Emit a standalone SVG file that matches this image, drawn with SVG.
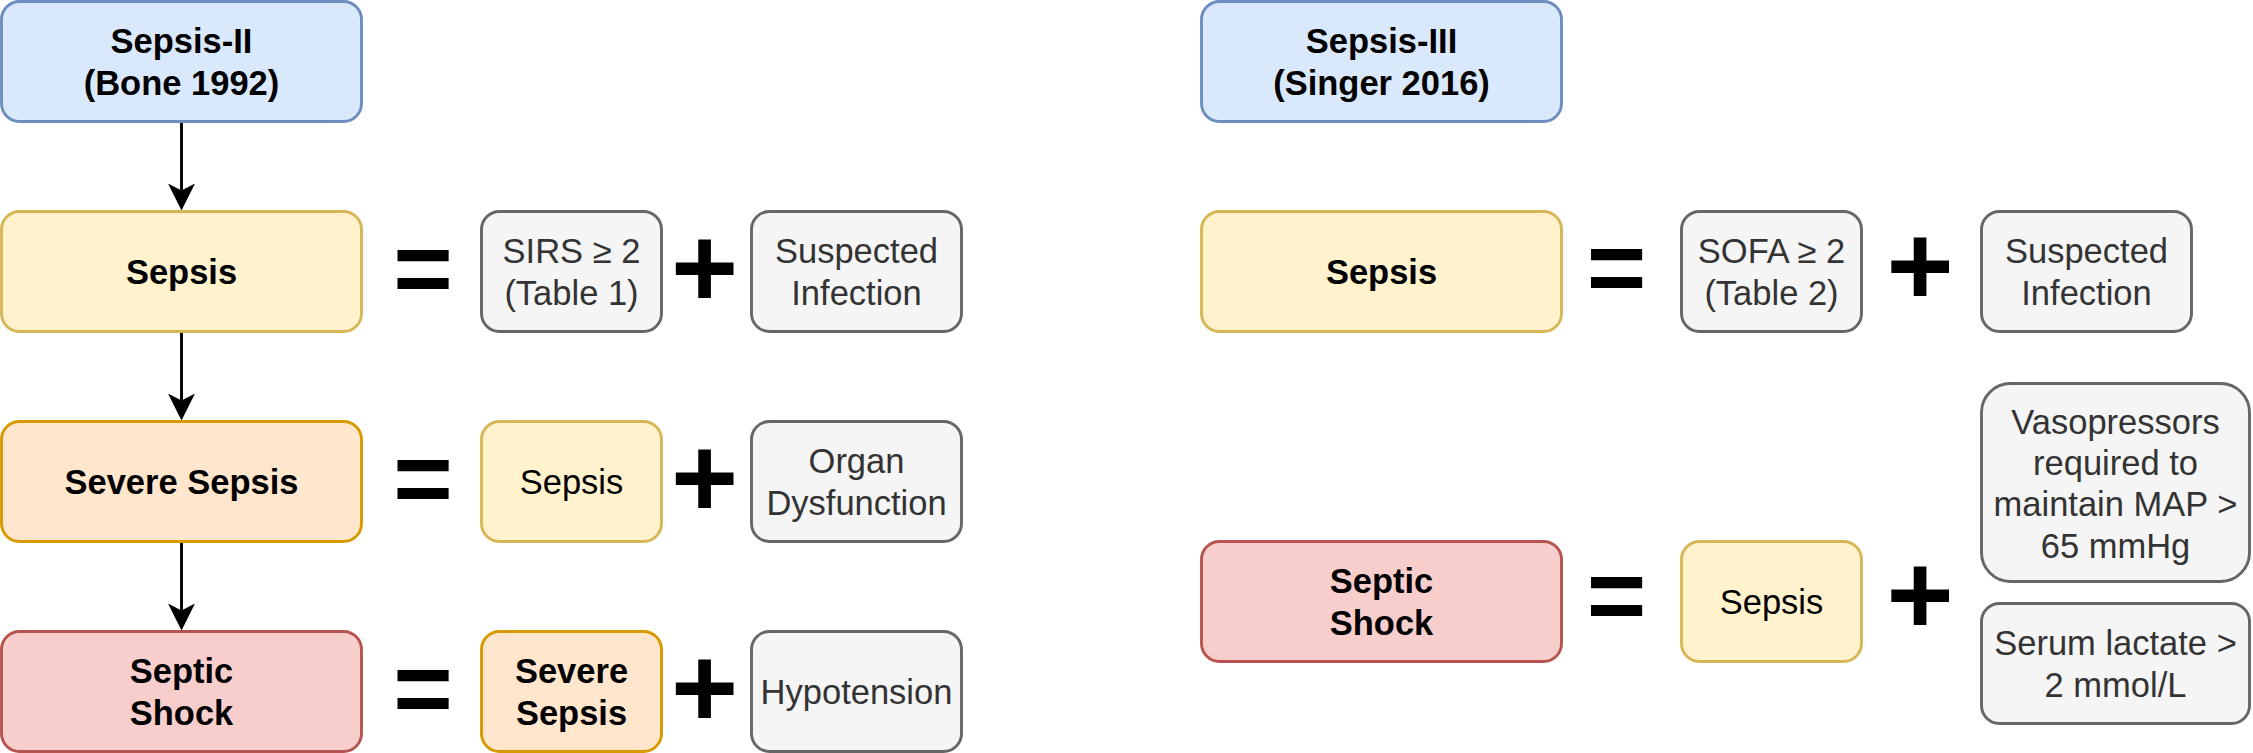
<svg xmlns="http://www.w3.org/2000/svg" width="2253" height="753" viewBox="0 0 2253 753">
<style>
  rect { stroke-width: 2.9; }
  .blue { fill: #dae8fc; stroke: #6c8ebf; }
  .yellow { fill: #fff2cc; stroke: #d6b656; }
  .orange { fill: #ffe6cc; stroke: #d79b00; }
  .red { fill: #f8cecc; stroke: #b85450; }
  .gray { fill: #f5f5f5; stroke: #666666; }
  text { font-family: "Liberation Sans", Arial, Helvetica, sans-serif; font-size: 34.5px; text-anchor: middle; }
  .b { font-weight: bold; fill: #000000; }
  .n { fill: #000000; }
  .g { fill: #333333; }
  .op { font-weight: bold; font-size: 115px; fill: #000000; }
  .eq { font-weight: bold; font-size: 102px; fill: #000000; }
  .conn { stroke: #000000; stroke-width: 2.9; fill: none; }
</style>
<defs>
  <marker id="arrow" viewBox="0 0 27 27" refX="7" refY="13.5" markerWidth="27" markerHeight="27" markerUnits="userSpaceOnUse" orient="auto">
    <path d="M0,0 L27,13.5 L0,27 L7,13.5 Z" fill="#000000"/>
  </marker>
</defs>
<rect width="2253" height="753" fill="#ffffff" stroke="none"/>

<g id="connectors">
  <path class="conn" d="M181.5,122 L181.5,190.5" marker-end="url(#arrow)"/>
  <path class="conn" d="M181.5,332 L181.5,400.5" marker-end="url(#arrow)"/>
  <path class="conn" d="M181.5,542 L181.5,610.5" marker-end="url(#arrow)"/>
</g>

<!-- Left: Sepsis-II -->
<g id="sepsis2-title">
  <rect class="blue" x="1.5" y="1.5" width="360" height="120" rx="18" ry="18"/>
  <text class="b" x="181.5" y="53.1">Sepsis-II</text>
  <text class="b" x="181.5" y="94.5">(Bone 1992)</text>
</g>
<g id="sepsis2-sepsis">
  <rect class="yellow" x="1.5" y="211.5" width="360" height="120" rx="18" ry="18"/>
  <text class="b" x="181.5" y="283.8">Sepsis</text>
</g>
<g id="sepsis2-severe">
  <rect class="orange" x="1.5" y="421.5" width="360" height="120" rx="18" ry="18"/>
  <text class="b" x="181.5" y="493.8">Severe Sepsis</text>
</g>
<g id="sepsis2-shock">
  <rect class="red" x="1.5" y="631.5" width="360" height="120" rx="18" ry="18"/>
  <text class="b" x="181.5" y="683.1">Septic</text>
  <text class="b" x="181.5" y="724.5">Shock</text>
</g>

<g id="eq-l1"><text class="eq" x="423" y="304">=</text></g>
<g id="eq-l2"><text class="eq" x="423" y="514">=</text></g>
<g id="eq-l3"><text class="eq" x="423" y="724">=</text></g>
<g id="plus-l1"><text class="op" x="704.5" y="307">+</text></g>
<g id="plus-l2"><text class="op" x="704.5" y="517">+</text></g>
<g id="plus-l3"><text class="op" x="704.5" y="727">+</text></g>

<g id="sirs">
  <rect class="gray" x="481.5" y="211.5" width="180" height="120" rx="18" ry="18"/>
  <text class="g" x="571.5" y="263.1">SIRS ≥ 2</text>
  <text class="g" x="571.5" y="304.5">(Table 1)</text>
</g>
<g id="suspected-l">
  <rect class="gray" x="751.5" y="211.5" width="210" height="120" rx="18" ry="18"/>
  <text class="g" x="856.5" y="263.1">Suspected</text>
  <text class="g" x="856.5" y="304.5">Infection</text>
</g>
<g id="sepsis-mid-l">
  <rect class="yellow" x="481.5" y="421.5" width="180" height="120" rx="18" ry="18"/>
  <text class="n" x="571.5" y="493.8">Sepsis</text>
</g>
<g id="organ">
  <rect class="gray" x="751.5" y="421.5" width="210" height="120" rx="18" ry="18"/>
  <text class="g" x="856.5" y="473.1">Organ</text>
  <text class="g" x="856.5" y="514.5">Dysfunction</text>
</g>
<g id="severe-mid-l">
  <rect class="orange" x="481.5" y="631.5" width="180" height="120" rx="18" ry="18"/>
  <text class="b" x="571.5" y="683.1">Severe</text>
  <text class="b" x="571.5" y="724.5">Sepsis</text>
</g>
<g id="hypotension">
  <rect class="gray" x="751.5" y="631.5" width="210" height="120" rx="18" ry="18"/>
  <text class="g" x="856.5" y="703.8">Hypotension</text>
</g>

<!-- Right: Sepsis-III -->
<g id="sepsis3-title">
  <rect class="blue" x="1201.5" y="1.5" width="360" height="120" rx="18" ry="18"/>
  <text class="b" x="1381.5" y="53.1">Sepsis-III</text>
  <text class="b" x="1381.5" y="94.5">(Singer 2016)</text>
</g>
<g id="sepsis3-sepsis">
  <rect class="yellow" x="1201.5" y="211.5" width="360" height="120" rx="18" ry="18"/>
  <text class="b" x="1381.5" y="283.8">Sepsis</text>
</g>
<g id="eq-r1"><text class="eq" x="1616.5" y="303">=</text></g>
<g id="sofa">
  <rect class="gray" x="1681.5" y="211.5" width="180" height="120" rx="18" ry="18"/>
  <text class="g" x="1771.5" y="263.1">SOFA ≥ 2</text>
  <text class="g" x="1771.5" y="304.5">(Table 2)</text>
</g>
<g id="plus-r1"><text class="op" x="1920" y="305">+</text></g>
<g id="suspected-r">
  <rect class="gray" x="1981.5" y="211.5" width="210" height="120" rx="18" ry="18"/>
  <text class="g" x="2086.5" y="263.1">Suspected</text>
  <text class="g" x="2086.5" y="304.5">Infection</text>
</g>

<g id="sepsis3-shock">
  <rect class="red" x="1201.5" y="541.5" width="360" height="120" rx="18" ry="18"/>
  <text class="b" x="1381.5" y="593.1">Septic</text>
  <text class="b" x="1381.5" y="634.5">Shock</text>
</g>
<g id="eq-r2"><text class="eq" x="1616.5" y="630.5">=</text></g>
<g id="sepsis-mid-r">
  <rect class="yellow" x="1681.5" y="541.5" width="180" height="120" rx="18" ry="18"/>
  <text class="n" x="1771.5" y="613.8">Sepsis</text>
</g>
<g id="plus-r2"><text class="op" x="1920" y="634">+</text></g>
<g id="vasopressors">
  <rect class="gray" x="1981.5" y="383.5" width="268" height="198" rx="29" ry="29"/>
  <text class="g" x="2115.5" y="433.5">Vasopressors</text>
  <text class="g" x="2115.5" y="474.9">required to</text>
  <text class="g" x="2115.5" y="516.3">maintain MAP &gt;</text>
  <text class="g" x="2115.5" y="557.7">65 mmHg</text>
</g>
<g id="lactate">
  <rect class="gray" x="1981.5" y="603.5" width="268" height="120" rx="18" ry="18"/>
  <text class="g" x="2115.5" y="655.1">Serum lactate &gt;</text>
  <text class="g" x="2115.5" y="696.5">2 mmol/L</text>
</g>
</svg>
